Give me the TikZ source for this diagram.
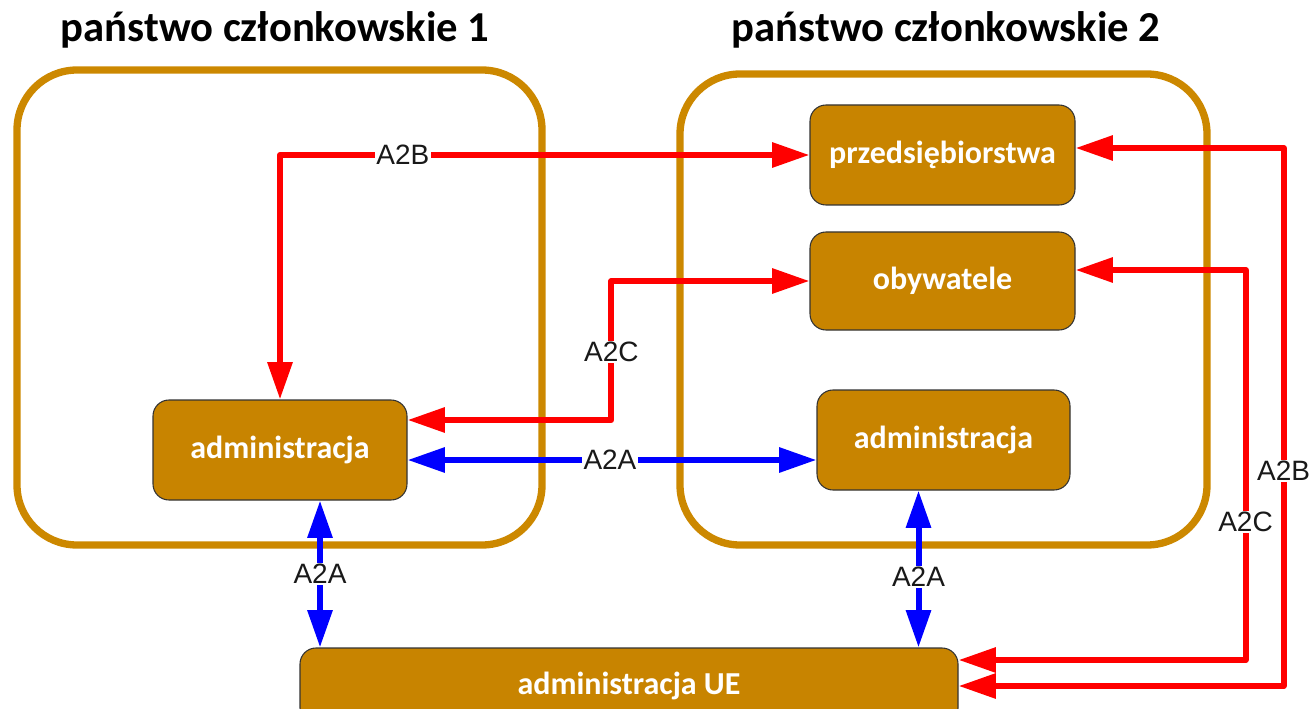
\documentclass[tikz,border=0pt]{standalone}
\usepackage{fontspec}
\setmainfont{Liberation Sans}
\newfontfamily\calib{Carlito}
\usetikzlibrary{calc,arrows.meta}
\definecolor{gold}{RGB}{204,136,0}
\definecolor{boxgold}{RGB}{200,132,0}
\newcommand{\tip}{Triangle[length=28pt,width=18pt]}

\begin{document}
\begin{tikzpicture}[x=0.75pt, y=-0.75pt,
    cont/.style={draw=gold, line width=5.5pt, rounded corners=45pt},
    unit/.style={draw=black!80, line width=0.8pt, fill=boxgold, rounded corners=12pt, text=white, font=\calib\bfseries\fontsize{24}{26}\selectfont},
    title/.style={font=\calib\bfseries\fontsize{32}{34}\selectfont},
    redarr/.style={draw=red, line width=4.5pt, line join=round, arrows={\tip-\tip}},
    bluearr/.style={draw=blue, line width=4.5pt, line join=round, arrows={\tip-\tip}},
    lbl/.style={fill=white, inner sep=1pt, text=black!90, font=\fontsize{21}{23}\selectfont}]
    \useasboundingbox (0,0) rectangle (1312,709);

    \node[title] (t1) at (275,30) {państwo członkowskie 1};
    \node[title] (t2) at (946,30) {państwo członkowskie 2};

    \draw[cont] (17,70) rectangle (542,545);
    \draw[cont] (680,74) rectangle (1207,545);

    \node[unit, minimum width=198.75pt, minimum height=75pt] (przed) at (942.5,155) {przedsiębiorstwa};
    \node[unit, minimum width=198.75pt, minimum height=73.5pt] (obyw) at (942.5,281) {obywatele};
    \node[unit, minimum width=189.75pt, minimum height=75pt] (adm2) at (943.5,440) {administracja};
    \node[unit, minimum width=190.5pt, minimum height=75pt] (adm1) at (280,450) {administracja};
    \node[unit, minimum width=493.5pt, minimum height=57pt] (admue) at (629,686) {administracja UE};

    \draw[redarr] (adm1.north) |- node[lbl, pos=0.616] {A2B} (przed.west);
    \draw[redarr] ($(adm1.east)+(0,-30)$) -| node[lbl, pos=0.745] {A2C} ($(obyw.west)+(-198,0)$) -- (obyw.west);
    \draw[bluearr] ($(adm1.east)+(0,10)$) -- node[lbl, pos=0.495] {A2A} ($(adm2.west)+(0,20)$);

    \draw[bluearr] ($(adm1.south)+(40,0)$) coordinate (p1) -- node[lbl] {A2A} (p1 |- admue.north);
    \draw[bluearr] ($(adm2.south)+(-25,0)$) coordinate (p2) -- node[lbl, pos=0.55] {A2A} (p2 |- admue.north);

    \draw[redarr] ($(obyw.east)+(0,-11)$) -| node[lbl, pos=0.823] {A2C} ($(admue.east)+(287,-26)$) -- ($(admue.east)+(0,-26)$);
    \draw[redarr] ($(przed.east)+(0,-7)$) -| node[lbl, pos=0.8] {A2B} ($(admue.east)+(325,0)$) -- (admue.east);
\end{tikzpicture}
\end{document}
